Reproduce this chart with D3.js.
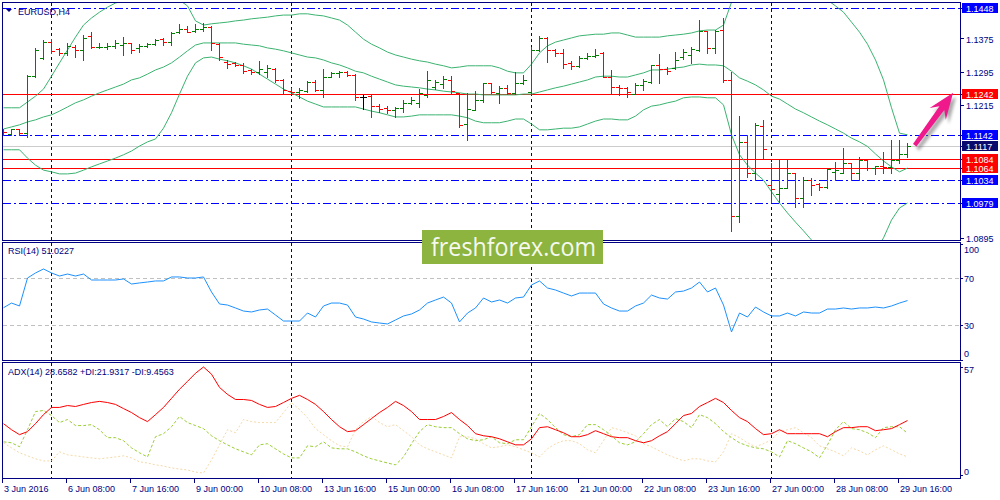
<!DOCTYPE html>
<html>
<head>
<meta charset="utf-8">
<script src="https://cdn.jsdelivr.net/npm/d3@7"></script>
<style>
  body { margin: 0; background: #fff; }
  svg { display: block; font-family: "Liberation Sans", Arial, sans-serif; }
</style>
</head>
<body>
<svg id="chart" width="1000" height="500"></svg>
<script>
// EURUSD H4, 3 Jun - 29 Jun 2016
const symbolName = "EURUSD";
const timeframe = "H4";

const opens = [
  1.1158,1.1146,1.1157,1.1147,1.1284,1.1328,1.1366,1.1349,1.1340,1.1354,
  1.1347,1.1381,1.1354,1.1355,1.1357,1.1359,1.1364,1.1352,1.1357,1.1361,
  1.1373,1.1366,1.1390,1.1397,1.1393,1.1397,1.1402,1.1361,1.1318,1.1316,
  1.1311,1.1299,1.1294,1.1294,1.1301,1.1275,1.1248,1.1246,1.1248,1.1270,
  1.1251,1.1282,1.1292,1.1294,1.1287,1.1234,1.1236,1.1212,1.1208,1.1203,
  1.1208,1.1220,1.1220,1.1239,1.1258,1.1265,1.1275,1.1244,1.1169,1.1203,
  1.1227,1.1268,1.1244,1.1256,1.1244,1.1268,1.1246,1.1347,1.1376,1.1347,
  1.1340,1.1316,1.1309,1.1328,1.1333,1.1340,1.1282,1.1258,1.1256,1.1241,
  1.1263,1.1270,1.1311,1.1301,1.1304,1.1330,1.1335,1.1347,1.1393,1.1352,
  1.1395,1.1275,1.0948,1.1126,1.1051,1.1164,1.1022,1.1000,1.1015,1.1051,
  1.0991,1.1034,1.1025,1.1017,1.1054,1.1051,1.1075,1.1051,1.1082,1.1063,
  1.1068,1.1066,1.1082,1.1097
];
const highs = [
  1.1158,1.1158,1.1158,1.1287,1.1352,1.1371,1.1373,1.1352,1.1364,1.1359,
  1.1383,1.1390,1.1364,1.1364,1.1371,1.1378,1.1364,1.1361,1.1364,1.1373,
  1.1376,1.1390,1.1410,1.1405,1.1410,1.1412,1.1405,1.1364,1.1323,1.1318,
  1.1316,1.1301,1.1321,1.1311,1.1304,1.1277,1.1256,1.1256,1.1272,1.1275,
  1.1301,1.1294,1.1296,1.1296,1.1289,1.1239,1.1239,1.1217,1.1212,1.1210,
  1.1227,1.1234,1.1253,1.1296,1.1275,1.1284,1.1284,1.1244,1.1244,1.1248,
  1.1268,1.1268,1.1260,1.1263,1.1294,1.1287,1.1354,1.1381,1.1378,1.1349,
  1.1349,1.1321,1.1333,1.1340,1.1349,1.1342,1.1299,1.1263,1.1258,1.1268,
  1.1277,1.1311,1.1337,1.1306,1.1342,1.1349,1.1354,1.1419,1.1393,1.1395,
  1.1424,1.1294,1.1188,1.1143,1.1172,1.1179,1.1075,1.1082,1.1082,1.1051,
  1.1042,1.1039,1.1027,1.1063,1.1078,1.1111,1.1075,1.1090,1.1082,1.1068,
  1.1102,1.1131,1.1131,1.1123
];
const lows = [
  1.1143,1.1143,1.1143,1.1138,1.1282,1.1325,1.1340,1.1335,1.1335,1.1330,
  1.1323,1.1352,1.1352,1.1349,1.1352,1.1335,1.1340,1.1342,1.1354,1.1359,
  1.1359,1.1359,1.1388,1.1390,1.1390,1.1393,1.1347,1.1323,1.1304,1.1309,
  1.1292,1.1289,1.1289,1.1282,1.1270,1.1241,1.1241,1.1232,1.1246,1.1248,
  1.1234,1.1282,1.1282,1.1284,1.1227,1.1205,1.1186,1.1198,1.1196,1.1186,
  1.1198,1.1217,1.1210,1.1234,1.1253,1.1256,1.1241,1.1162,1.1131,1.1203,
  1.1222,1.1244,1.1220,1.1241,1.1241,1.1265,1.1241,1.1345,1.1318,1.1333,
  1.1304,1.1301,1.1306,1.1325,1.1330,1.1282,1.1241,1.1239,1.1234,1.1241,
  1.1251,1.1268,1.1268,1.1289,1.1301,1.1325,1.1316,1.1345,1.1340,1.1340,
  1.1270,1.0912,1.0933,1.1042,1.1034,1.1088,1.0981,1.0981,1.1015,1.0969,
  1.0969,1.0998,1.1010,1.1015,1.1034,1.1051,1.1034,1.1034,1.1058,1.1049,
  1.1051,1.1051,1.1075,1.1090
];
const closes = [
  1.1150,1.1157,1.1148,1.1284,1.1347,1.1366,1.1345,1.1340,1.1357,1.1347,
  1.1376,1.1354,1.1355,1.1357,1.1364,1.1364,1.1347,1.1357,1.1361,1.1371,
  1.1366,1.1388,1.1397,1.1390,1.1397,1.1402,1.1364,1.1330,1.1313,1.1311,
  1.1296,1.1294,1.1301,1.1304,1.1275,1.1251,1.1246,1.1251,1.1270,1.1251,
  1.1282,1.1292,1.1294,1.1287,1.1234,1.1234,1.1212,1.1205,1.1203,1.1208,
  1.1220,1.1227,1.1244,1.1275,1.1270,1.1277,1.1248,1.1167,1.1205,1.1227,
  1.1268,1.1246,1.1256,1.1244,1.1268,1.1275,1.1347,1.1376,1.1347,1.1340,
  1.1313,1.1309,1.1328,1.1333,1.1335,1.1282,1.1258,1.1256,1.1246,1.1263,
  1.1272,1.1311,1.1301,1.1296,1.1323,1.1342,1.1349,1.1393,1.1352,1.1393,
  1.1275,1.0948,1.1126,1.1051,1.1167,1.1109,1.1013,1.1015,1.1051,1.0991,
  1.1034,1.1022,1.1017,1.1061,1.1058,1.1075,1.1051,1.1082,1.1063,1.1068,
  1.1066,1.1082,1.1097,1.1117
];

// Bollinger bands (20)
const bbUpper = [
  1.1208,1.1208,1.1208,1.1222,1.1236,1.1253,1.1284,1.1316,1.1347,1.1378,
  1.1407,1.1424,1.1438,1.1450,1.1460,1.1465,1.1474,1.1482,1.1484,1.1484,
  1.1482,1.1477,1.1467,1.1453,1.1417,1.1407,1.1410,1.1412,1.1414,1.1417,
  1.1419,1.1422,1.1424,1.1426,1.1429,1.1431,1.1431,1.1434,1.1434,1.1431,
  1.1429,1.1424,1.1419,1.1407,1.1390,1.1373,1.1361,1.1352,1.1342,1.1335,
  1.1330,1.1325,1.1321,1.1318,1.1313,1.1309,1.1304,1.1306,1.1309,1.1309,
  1.1309,1.1309,1.1304,1.1296,1.1292,1.1292,1.1313,1.1340,1.1357,1.1366,
  1.1371,1.1376,1.1381,1.1383,1.1385,1.1385,1.1388,1.1388,1.1383,1.1378,
  1.1378,1.1378,1.1378,1.1381,1.1383,1.1385,1.1388,1.1393,1.1395,1.1395,
  1.1407,1.1462,1.1515,1.1563,1.1600,1.1624,1.1636,1.1636,1.1624,1.1600,
  1.1563,1.1527,1.1491,1.1467,1.1453,1.1438,1.1414,1.1390,1.1361,1.1323,
  1.1275,1.1208,1.1147,1.1143
];
const bbMiddle = [
  1.1157,1.1162,1.1167,1.1174,1.1179,1.1186,1.1191,1.1200,1.1210,1.1220,
  1.1227,1.1236,1.1244,1.1251,1.1258,1.1265,1.1275,1.1280,1.1289,1.1299,
  1.1306,1.1316,1.1330,1.1345,1.1359,1.1364,1.1364,1.1364,1.1364,1.1364,
  1.1361,1.1359,1.1357,1.1352,1.1349,1.1345,1.1340,1.1335,1.1330,1.1328,
  1.1323,1.1316,1.1311,1.1304,1.1296,1.1292,1.1284,1.1277,1.1270,1.1263,
  1.1260,1.1258,1.1256,1.1253,1.1251,1.1248,1.1246,1.1244,1.1241,1.1241,
  1.1239,1.1239,1.1239,1.1239,1.1239,1.1241,1.1241,1.1246,1.1251,1.1256,
  1.1260,1.1265,1.1270,1.1275,1.1282,1.1284,1.1284,1.1282,1.1282,1.1287,
  1.1292,1.1299,1.1299,1.1301,1.1304,1.1306,1.1311,1.1313,1.1311,1.1311,
  1.1309,1.1296,1.1280,1.1272,1.1263,1.1251,1.1236,1.1229,1.1217,1.1205,
  1.1196,1.1186,1.1176,1.1167,1.1157,1.1147,1.1135,1.1126,1.1115,1.1097,
  1.1080,1.1066,1.1054,1.1063
];
const bbLower = [
  1.1107,1.1107,1.1107,1.1087,1.1070,1.1058,1.1054,1.1049,1.1049,1.1051,
  1.1058,1.1066,1.1073,1.1080,1.1087,1.1095,1.1104,1.1116,1.1126,1.1133,
  1.1159,1.1196,1.1241,1.1284,1.1316,1.1328,1.1330,1.1325,1.1321,1.1316,
  1.1309,1.1301,1.1289,1.1277,1.1265,1.1253,1.1244,1.1234,1.1224,1.1217,
  1.1210,1.1210,1.1210,1.1210,1.1210,1.1205,1.1200,1.1196,1.1191,1.1186,
  1.1186,1.1188,1.1191,1.1191,1.1191,1.1191,1.1191,1.1188,1.1184,1.1176,
  1.1172,1.1172,1.1172,1.1176,1.1181,1.1181,1.1169,1.1155,1.1155,1.1157,
  1.1159,1.1159,1.1162,1.1169,1.1176,1.1181,1.1181,1.1179,1.1179,1.1188,
  1.1203,1.1212,1.1215,1.1220,1.1224,1.1232,1.1234,1.1234,1.1232,1.1232,
  1.1215,1.1143,1.1095,1.1070,1.1051,1.1034,1.1006,1.0979,1.0955,1.0933,
  1.0912,1.0890,1.0866,1.0847,1.0837,1.0832,1.0832,1.0837,1.0847,1.0866,
  1.0895,1.0938,1.0967,1.0979
];

const rsi = [
  44.9,48.9,46.4,70.2,74.5,77.9,74.5,71.9,73.6,71.9,
  73.6,68.5,68.5,68.5,68.5,69.4,65.1,66.0,66.8,67.7,
  67.7,71.1,71.1,70.2,70.2,71.1,58.3,48.1,47.2,44.7,
  42.1,41.3,43.0,43.8,38.7,33.6,33.6,33.6,40.4,37.0,
  46.4,48.9,48.9,47.2,37.0,35.3,32.8,31.9,31.1,34.5,
  37.9,39.6,43.0,48.9,51.5,54.0,48.9,32.8,40.4,44.7,
  53.2,49.8,51.5,48.9,53.2,54.0,64.3,67.7,61.7,60.0,
  57.4,54.9,57.4,57.4,57.4,48.1,44.7,42.1,42.1,46.4,
  48.9,55.7,53.2,52.3,58.3,59.1,61.7,66.8,58.3,61.7,
  47.2,24.3,40.4,37.0,45.5,41.3,37.9,37.9,40.4,37.9,
  41.3,40.4,40.4,43.8,43.8,44.7,43.8,44.7,44.7,45.5,
  44.7,46.4,48.9,51.0227
];

const adx = [
  27.0,23.8,21.2,22.8,27.0,31.8,35.6,35.6,36.6,36.1,
  37.2,38.2,38.8,38.2,37.2,35.0,32.9,30.2,28.1,31.8,
  35.6,40.4,45.2,49.4,53.7,57.0,53.2,46.2,42.5,39.8,
  39.8,39.3,37.2,35.6,36.1,38.2,40.4,42.0,39.8,37.2,
  33.4,29.2,25.4,22.8,23.3,26.5,29.7,32.9,35.6,38.8,
  36.6,33.4,29.2,29.2,29.2,30.8,32.9,29.2,26.0,21.7,
  20.6,20.1,19.0,17.4,15.8,15.8,19.0,24.9,25.4,23.8,
  22.2,20.1,20.1,21.2,23.3,21.7,20.1,19.6,19.6,18.0,
  16.9,18.0,20.6,22.8,27.0,31.3,32.4,36.1,38.2,40.4,
  38.2,34.0,30.2,28.1,24.4,21.2,21.7,23.8,21.7,21.7,
  21.7,21.7,21.7,20.1,22.8,24.9,24.9,25.4,25.4,23.3,
  23.8,24.4,26.5,28.6582
];
const diPlus = [
  17.4,16.9,14.8,23.8,33.4,34.0,31.3,27.6,29.2,26.0,
  26.0,26.5,23.8,19.6,19.6,18.0,14.2,11.6,9.4,20.1,
  21.7,25.4,30.8,27.6,26.0,24.4,20.6,18.0,15.8,13.7,
  12.1,10.5,15.8,16.4,13.7,11.0,8.9,8.9,15.3,14.8,
  17.4,14.2,13.7,13.7,12.1,10.0,8.4,7.3,6.2,5.2,
  9.4,16.4,22.8,26.5,25.4,24.9,24.9,21.7,19.0,18.0,
  18.5,20.1,16.9,16.4,18.5,18.5,25.4,32.4,29.2,24.9,
  21.2,20.1,21.2,26.5,26.5,23.8,20.6,16.9,15.8,17.4,
  21.7,26.5,29.2,25.4,29.7,28.1,24.9,31.8,30.2,27.0,
  22.8,19.6,16.9,15.3,14.2,13.7,12.1,9.4,18.0,16.4,
  14.2,12.1,8.9,15.8,23.8,28.1,24.4,23.8,22.2,19.6,
  24.9,25.4,25.4,21.9317
];
const diMinus = [
  16.9,14.2,11.6,10.0,8.4,7.3,7.3,12.1,10.5,10.0,
  9.4,8.9,8.4,8.9,9.4,10.0,8.9,6.8,6.2,5.2,
  4.6,3.6,3.0,2.5,1.4,0.9,7.8,15.8,23.8,22.2,
  29.2,28.1,27.6,27.6,27.6,32.9,38.2,34.5,30.2,24.4,
  21.2,18.0,15.3,14.8,23.8,28.1,30.8,27.6,25.4,26.5,
  23.3,20.1,15.8,13.7,12.1,10.5,8.9,20.1,20.1,19.0,
  16.4,14.2,14.8,15.8,14.8,13.2,11.6,9.4,13.7,16.4,
  18.0,18.0,16.4,13.2,11.6,18.0,24.9,23.8,22.2,20.6,
  16.4,14.8,12.6,10.5,8.9,7.3,8.4,8.4,7.3,6.8,
  12.1,21.7,19.6,16.9,14.8,16.4,18.5,22.8,23.8,24.9,
  22.2,19.6,15.3,13.7,12.1,10.0,14.2,12.6,10.5,13.2,
  15.3,13.2,11.0,9.4563
];

const dateLabels = ["3 Jun 2016","6 Jun 08:00","7 Jun 16:00","9 Jun 00:00","10 Jun 08:00",
  "13 Jun 16:00","15 Jun 00:00","16 Jun 08:00","17 Jun 16:00","21 Jun 00:00",
  "22 Jun 08:00","23 Jun 16:00","27 Jun 00:00","28 Jun 08:00","29 Jun 16:00"];
const dateLabelBars = [0,8,16,24,32,40,48,56,64,72,80,88,96,104,112];
const weekStarts = [6, 36, 66, 96];

const priceTicks = [1.1375, 1.1295, 1.1215, 1.0895];
const levelPrices = [1.1448, 1.1242, 1.1142, 1.1117, 1.1084, 1.1064, 1.1034, 1.0979];
const levelKinds = ["blue", "red", "blue", "bid", "red", "red", "blue", "blue"];
const rsiLevels = [70, 30];
const rsiTicks = [100, 70, 30, 0];
const adxTicks = [57, 0];

const arrowFrom = { bar: 113.9, price: 1.1118 };
const arrowTo = { bar: 118.7, price: 1.1244 };

// ---- layout
const NAVY = "#000080";
const left = 2.5, right = 960.5;
const mainTop = 2.5, mainBottom = 240.5;
const rsiTop = 242.5, rsiBottom = 360.5;
const adxTop = 362.5, adxBottom = 478.5;

const levelStyle = {
  blue: { stroke: "#0000FF", dash: "8,3,2,3", box: "#0000FF" },
  red:  { stroke: "#FF0000", dash: null, box: "#FF0000" },
  bid:  { stroke: "#CCCCCC", dash: null, box: "#0A0A6E" }
};

const svg = d3.select("#chart");

const x = d3.scaleLinear().domain([0, 1]).range([3.5, 11.5]);
const y = d3.scaleLinear().domain([1.1448, 1.0979]).range([8, 203]);
const yRsi = d3.scaleLinear().domain([0, 100]).range([360.5, 243]);
const yAdx = d3.scaleLinear().domain([0, 57]).range([474.7, 367]);

const defs = svg.append("defs");
function addClip(id, y0, y1) {
  defs.append("clipPath").attr("id", id)
    .append("rect").attr("x", 3).attr("y", y0).attr("width", 957).attr("height", y1 - y0);
}
addClip("clipMain", 3, 240);
addClip("clipRsi", 243, 360);
addClip("clipAdx", 363, 478);

const blur = defs.append("filter").attr("id", "shadow")
  .attr("x", "-20%").attr("y", "-20%").attr("width", "140%").attr("height", "140%");
blur.append("feGaussianBlur").attr("stdDeviation", 1.8);

const crisp = v => Math.round(v) + 0.5;

// week separators
svg.append("g").selectAll("line").data(weekStarts).join("line")
  .attr("x1", d => x(d)).attr("x2", d => x(d))
  .attr("y1", mainTop).attr("y2", adxBottom)
  .attr("stroke", NAVY).attr("stroke-dasharray", "3,3")
  .attr("shape-rendering", "crispEdges");

// ---- main panel
const main = svg.append("g").attr("clip-path", "url(#clipMain)");

main.append("g").selectAll("line").data(levelPrices).join("line")
  .attr("x1", left).attr("x2", right)
  .attr("y1", d => crisp(y(d))).attr("y2", d => crisp(y(d)))
  .attr("stroke", (d, i) => levelStyle[levelKinds[i]].stroke)
  .attr("stroke-dasharray", (d, i) => levelStyle[levelKinds[i]].dash)
  .attr("shape-rendering", "crispEdges");

const bandLine = d3.line().x((d, i) => x(i)).y(d => y(d));
[bbUpper, bbMiddle, bbLower].forEach(band => {
  main.append("path")
    .attr("d", bandLine(band))
    .attr("fill", "none")
    .attr("stroke", "#3CB371")
    .attr("stroke-width", 1);
});

const bars = opens.map((o, i) => ({ i, o, h: highs[i], l: lows[i], c: closes[i] }));
main.append("g").selectAll("path").data(bars).join("path")
  .attr("d", d => {
    const cx = x(d.i);
    const yo = crisp(y(d.o)), yc = crisp(y(d.c));
    const yh = Math.round(y(d.h)), yl = Math.round(y(d.l)) + 1;
    return `M${cx},${yh}V${yl}M${cx - 3.5},${yo}H${cx + 0.5}M${cx - 0.5},${yc}H${cx + 3.5}`;
  })
  .attr("fill", "none")
  .attr("stroke", d => d.c > d.o ? "#008000" : d.c < d.o ? "#FF0000" : "#000000")
  .attr("stroke-width", 1)
  .attr("shape-rendering", "crispEdges");

// ---- RSI panel
const rsiG = svg.append("g").attr("clip-path", "url(#clipRsi)");
rsiG.append("g").selectAll("line").data(rsiLevels).join("line")
  .attr("x1", left).attr("x2", right)
  .attr("y1", d => crisp(yRsi(d))).attr("y2", d => crisp(yRsi(d)))
  .attr("stroke", "#C0C0C0").attr("stroke-dasharray", "4,3")
  .attr("shape-rendering", "crispEdges");
rsiG.append("path")
  .attr("d", d3.line().x((d, i) => x(i)).y(d => yRsi(d))(rsi))
  .attr("fill", "none").attr("stroke", "#1E90FF").attr("stroke-width", 1);

// ---- ADX panel
const adxG = svg.append("g").attr("clip-path", "url(#clipAdx)");
const adxLine = d3.line().x((d, i) => x(i)).y(d => yAdx(d));
adxG.append("path").attr("d", adxLine(diMinus))
  .attr("fill", "none").attr("stroke", "#F5D9A8").attr("stroke-dasharray", "2,2");
adxG.append("path").attr("d", adxLine(diPlus))
  .attr("fill", "none").attr("stroke", "#9ACD32").attr("stroke-dasharray", "3,2");
adxG.append("path").attr("d", adxLine(adx))
  .attr("fill", "none").attr("stroke", "#FF0000").attr("stroke-width", 1);

// ---- panel frames
[[mainTop, mainBottom], [rsiTop, rsiBottom], [adxTop, adxBottom]].forEach(([t, b]) => {
  svg.append("rect")
    .attr("x", left).attr("y", t).attr("width", right - left).attr("height", b - t)
    .attr("fill", "none").attr("stroke", NAVY)
    .attr("shape-rendering", "crispEdges");
});

// ---- right price axis
const axisG = svg.append("g").attr("font-size", 9);
axisG.selectAll("line.tick").data(priceTicks.concat(levelPrices)).join("line")
  .attr("class", "tick")
  .attr("x1", right).attr("x2", right + 3.5)
  .attr("y1", d => crisp(y(d))).attr("y2", d => crisp(y(d)))
  .attr("stroke", NAVY).attr("shape-rendering", "crispEdges");
axisG.selectAll("text.plain").data(priceTicks).join("text")
  .attr("class", "plain")
  .attr("x", 966).attr("y", d => y(d) + 4.5)
  .attr("fill", NAVY)
  .text(d => d.toFixed(4));

const boxes = axisG.selectAll("g.box").data(levelPrices).join("g").attr("class", "box");
boxes.append("rect")
  .attr("x", 962).attr("y", d => Math.round(y(d)) - 5)
  .attr("width", 36).attr("height", 10)
  .attr("fill", (d, i) => levelStyle[levelKinds[i]].box);
boxes.append("text")
  .attr("x", 966).attr("y", d => Math.round(y(d)) + 3.5)
  .attr("fill", "#FFFFFF")
  .text(d => d.toFixed(4));

// indicator axes
function indicatorAxis(ticks, scale, top, bottom) {
  axisG.append("g").selectAll("line").data(ticks).join("line")
    .attr("x1", right).attr("x2", right + 2.5)
    .attr("y1", d => crisp(Math.min(Math.max(scale(d), top + 1), bottom - 1)))
    .attr("y2", d => crisp(Math.min(Math.max(scale(d), top + 1), bottom - 1)))
    .attr("stroke", NAVY).attr("shape-rendering", "crispEdges");
  axisG.append("g").selectAll("text").data(ticks).join("text")
    .attr("x", 964)
    .attr("y", d => Math.min(Math.max(scale(d) + 3.3, top + 10), bottom - 3.5))
    .attr("fill", NAVY)
    .text(d => d);
}
indicatorAxis(rsiTicks, yRsi, rsiTop, rsiBottom);
indicatorAxis(adxTicks, yAdx, adxTop, adxBottom);

// ---- time axis
const timeG = svg.append("g").attr("font-size", 9).attr("fill", NAVY);
timeG.selectAll("line").data(dateLabelBars).join("line")
  .attr("x1", d => x(d) - 1).attr("x2", d => x(d) - 1)
  .attr("y1", adxBottom).attr("y2", adxBottom + 4)
  .attr("stroke", NAVY).attr("shape-rendering", "crispEdges");
timeG.selectAll("text").data(dateLabelBars).join("text")
  .attr("x", d => x(d) + 0.5).attr("y", 492)
  .text((d, i) => dateLabels[i]);

// ---- panel titles
const titles = svg.append("g").attr("font-size", 9).attr("fill", NAVY);
titles.append("path").attr("d", "M6,9L12,9L9,12Z").attr("fill", NAVY);
titles.append("text").attr("x", 18).attr("y", 14.5).text(`${symbolName},${timeframe}`);
titles.append("text").attr("x", 8).attr("y", 254)
  .text(`RSI(14) ${rsi[rsi.length - 1].toFixed(4)}`);
titles.append("text").attr("x", 8).attr("y", 375)
  .text(`ADX(14) ${adx[adx.length - 1].toFixed(4)} +DI:${diPlus[diPlus.length - 1].toFixed(4)} -DI:${diMinus[diMinus.length - 1].toFixed(4)}`);

// ---- watermark
const logo = svg.append("g");
logo.append("rect").attr("x", 422).attr("y", 230).attr("width", 181).attr("height", 34)
  .attr("fill", "#8CB43E");
logo.append("text").attr("x", 431).attr("y", 256)
  .attr("font-family", "'Open Sans', sans-serif").attr("font-size", 25)
  .attr("fill", "#F6F9EF")
  .attr("textLength", 165).attr("lengthAdjust", "spacingAndGlyphs")
  .text("freshforex.com");

// ---- arrow annotation
const ax0 = x(arrowFrom.bar), ay0 = y(arrowFrom.price);
const ax1 = x(arrowTo.bar), ay1 = y(arrowTo.price);
const len = Math.hypot(ax1 - ax0, ay1 - ay0);
const ang = Math.atan2(ay1 - ay0, ax1 - ax0) * 180 / Math.PI;
const hl = 26, hw = 10, notch = 7, sw = 3;
const arrowPts = [[0, -sw * 0.7], [len - hl + notch, -sw], [len - hl, -hw], [len, 0],
  [len - hl, hw], [len - hl + notch, sw], [0, sw * 0.7]];
const arrowPath = d3.line()(arrowPts) + "Z";
svg.append("path").attr("d", arrowPath)
  .attr("transform", `translate(${ax0 + 3},${ay0 + 4}) rotate(${ang})`)
  .attr("fill", "#666").attr("opacity", 0.55).attr("filter", "url(#shadow)");
svg.append("path").attr("d", arrowPath)
  .attr("transform", `translate(${ax0},${ay0}) rotate(${ang})`)
  .attr("fill", "#F0198C");
</script>
</body>
</html>
